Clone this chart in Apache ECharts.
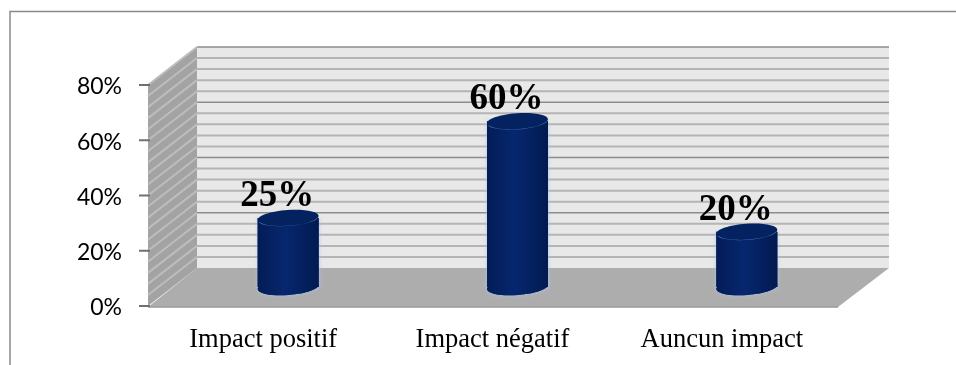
<!DOCTYPE html>
<html>
<head>
<meta charset="utf-8">
<style>html,body{margin:0;padding:0;background:#fff}#chart{width:956px;height:365px}</style>
<script src="https://cdn.jsdelivr.net/npm/echarts@6/dist/echarts.min.js"></script>
</head>
<body>
<div id="chart"></div>
<script>
// Survey answers, in percent
const categories = ['Impact positif', 'Impact négatif', 'Auncun impact'];
const shares = [25, 60, 20];
const axisTicks = [0, 20, 40, 60, 80];
const wallLines = [4, 8, 12, 16, 20, 24, 28, 32, 36, 40, 44, 48, 52, 56, 60, 64, 68, 72, 76, 80];

// Pseudo-3D box: how far the back wall is pushed from the front plane
const DEPTH_X = 47;
const DEPTH_Y = -38;
const BAR_HALF = 30.5;
const RIM = 8;
const TILT = 0.07;

const chart = echarts.init(document.getElementById('chart'), null, { renderer: 'canvas' });

// Floor, side wall and back wall of the box with their gridlines
function renderRoom(params, api) {
  const box = params.coordSys;
  const x0 = box.x, x1 = box.x + box.width;
  const y0 = box.y + box.height, yt = box.y;
  const backLeft = x0 + DEPTH_X, backRight = x1 + DEPTH_X + 4;
  const children = [
    { type: 'polygon', shape: { points: [[backLeft, y0 + DEPTH_Y], [backRight, y0 + DEPTH_Y], [x1, y0 + 1], [x0 - 2, y0 + 1]] },
      style: { fill: '#adadad' } },
    { type: 'line', shape: { x1: x0 - 2, y1: y0 + 1, x2: x1, y2: y0 + 1 }, style: { stroke: '#9a9a9a', lineWidth: 1.5 } },
    { type: 'polygon', shape: { points: [[x0 - 2, y0], [x0 - 2, yt], [backLeft, yt + DEPTH_Y], [backLeft, y0 + DEPTH_Y]] },
      style: { fill: '#a3a3a3' } },
    { type: 'rect', shape: { x: backLeft, y: yt + DEPTH_Y, width: backRight - backLeft, height: y0 - yt },
      style: { fill: '#e8e8e8' } }
  ];
  wallLines.forEach(function (v) {
    const y = api.coord([0, v])[1];
    const major = v % 20 === 0;
    children.push({ type: 'line',
      shape: { x1: backLeft, y1: y + DEPTH_Y, x2: backRight, y2: y + DEPTH_Y },
      style: { stroke: major ? '#8c8c8c' : '#b4b4b4', lineWidth: major ? 1.5 : 2 } });
    children.push({ type: 'line',
      shape: { x1: x0 - 2, y1: y, x2: backLeft, y2: y + DEPTH_Y },
      style: { stroke: '#bdbdbd', lineWidth: 2 } });
  });
  return { type: 'group', children: children };
}

// One cylinder standing mid-depth on the floor, with its value above it
function renderCylinder(params, api) {
  const base = api.coord([api.value(0), 0]);
  const top = api.coord([api.value(0), api.value(1)]);
  const cx = base[0] + DEPTH_X / 2;
  const yb = base[1] + DEPTH_Y / 2;
  const yt = top[1] + DEPTH_Y / 2;
  const side = new echarts.graphic.LinearGradient(0, 0, 1, 0, [
    { offset: 0, color: '#031c55' }, { offset: 0.45, color: '#06276f' }, { offset: 1, color: '#021a50' }]);
  const halo = { shadowBlur: 4, shadowColor: 'rgba(170,195,240,0.9)' };
  return { type: 'group', children: [
    { type: 'ellipse', shape: { cx: cx, cy: yb, rx: BAR_HALF, ry: RIM },
      rotation: TILT, originX: cx, originY: yb,
      style: Object.assign({ fill: '#041f5c' }, halo) },
    { type: 'rect', shape: { x: cx - BAR_HALF, y: yt, width: BAR_HALF * 2, height: yb - yt },
      style: Object.assign({ fill: side }, halo) },
    { type: 'ellipse', shape: { cx: cx, cy: yb, rx: BAR_HALF, ry: RIM },
      rotation: TILT, originX: cx, originY: yb,
      style: { fill: side } },
    { type: 'rect', shape: { x: cx - BAR_HALF, y: yt, width: BAR_HALF * 2, height: yb - yt },
      style: { fill: side } },
    { type: 'ellipse', shape: { cx: cx, cy: yt, rx: BAR_HALF, ry: RIM },
      rotation: TILT, originX: cx, originY: yt,
      style: { fill: '#03225f' } },
    { type: 'arc', x: cx, y: yt, scaleY: RIM / BAR_HALF, rotation: TILT,
      shape: { cx: 0, cy: 0, r: BAR_HALF, startAngle: 0.3, endAngle: Math.PI - 0.3 },
      style: { fill: 'none', stroke: '#4a70b8', lineWidth: 1 } },
    { type: 'text', x: cx - 11, y: yt - 3,
      style: { text: api.value(1) + '%', fill: '#000', align: 'center', verticalAlign: 'bottom',
        font: 'bold 37px "Liberation Serif"' } }
  ] };
}

// Axis tick marks and percent labels, left of the side wall
function renderTick(params, api) {
  const y = api.coord([0, api.value(0)])[1];
  const x0 = params.coordSys.x;
  return { type: 'group', children: [
    { type: 'rect', shape: { x: x0 - 11, y: y - 1, width: 11, height: 2 }, style: { fill: '#707070' } },
    { type: 'text', x: x0 - 28, y: y + 2,
      style: { text: api.value(0) + '%', fill: '#000', align: 'right', verticalAlign: 'middle', font: '23px Lato' } }
  ] };
}

chart.setOption({
  animation: false,
  backgroundColor: '#ffffff',
  graphic: [
    { type: 'polyline', silent: true, shape: { points: [[10, 365], [10, 11.5], [956, 11.5]] },
      style: { stroke: '#8a8a8a', fill: 'none', lineWidth: 1.5 } }
  ],
  grid: { left: 150, top: 85, width: 688, height: 221 },
  xAxis: {
    type: 'category',
    data: categories,
    axisLine: { show: false },
    axisTick: { show: false },
    axisLabel: { color: '#000', fontFamily: 'Liberation Serif', fontSize: 26.5, margin: 21, padding: [0, 3, 0, 0] }
  },
  yAxis: {
    type: 'value',
    min: 0,
    max: 80,
    interval: 20,
    splitLine: { show: false },
    axisLine: { show: false },
    axisTick: { show: false },
    axisLabel: { show: false }
  },
  series: [
    { type: 'custom', silent: true, clip: false, z: 1, data: [[0, 0]], renderItem: renderRoom },
    { type: 'custom', silent: true, clip: false, z: 3,
      data: axisTicks.map(function (v) { return [v]; }), encode: { y: 0 }, renderItem: renderTick },
    { type: 'custom', silent: true, clip: false, z: 2,
      data: shares.map(function (v, i) { return [i, v]; }), renderItem: renderCylinder }
  ]
});
</script>
</body>
</html>
